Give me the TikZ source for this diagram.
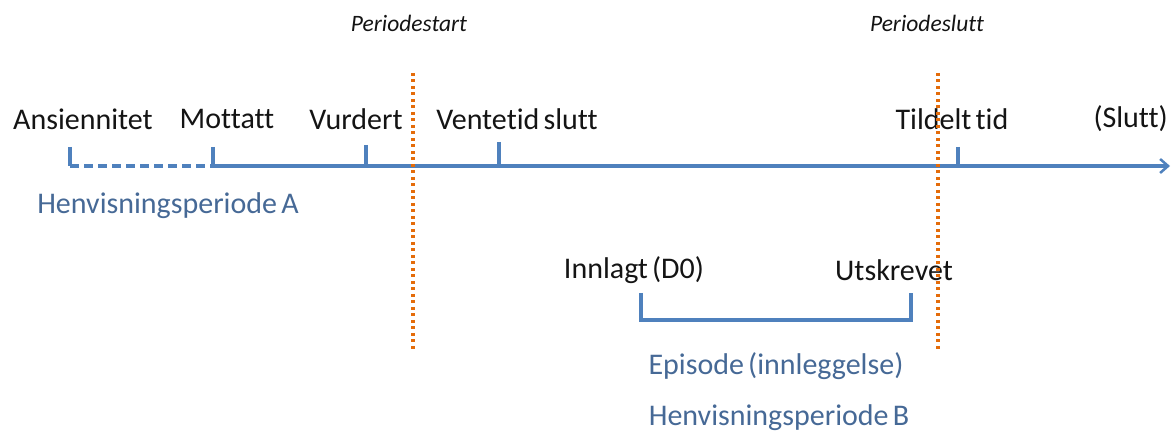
\documentclass[tikz,border=0pt]{standalone}
\usepackage{fontspec}
\setmainfont[Ligatures={NoCommon}]{Carlito}
\usetikzlibrary{arrows.meta}
\definecolor{axisblue}{RGB}{79,129,189}
\definecolor{labblue}{RGB}{70,105,150}
\definecolor{dotorange}{RGB}{228,108,10}
\definecolor{txt}{RGB}{20,20,20}
\newcommand{\tightsp}{\fontdimen2\font=0.14em}
\begin{document}
\begin{tikzpicture}[x=1pt,y=-1pt,
  lbl/.style={inner sep=0pt,text=txt,font=\fontsize{30}{35}\selectfont\tightsp},
  blbl/.style={inner sep=0pt,text=labblue,font=\fontsize{30}{35}\selectfont\tightsp},
  ilbl/.style={inner sep=0pt,text=txt,font=\fontsize{23.5}{28}\selectfont\itshape},
  axisline/.style={draw=axisblue,line width=3.5pt},
  tick/.style={draw=axisblue,line width=3.5pt},
  periodline/.style={draw=dotorange,line width=3.5pt,dash pattern=on 3pt off 3.5pt}]
\useasboundingbox (0,0) rectangle (1171,435);
% labels
\node[lbl] (ans) at (83,119) {Ansiennitet};
\node[lbl] (mot) at (227,119) {Mottatt};
\node[lbl] (vur) at (356,119) {Vurdert};
\node[lbl] (ven) at (517,119) {Ventetid slutt};
\node[lbl] (til) at (952,119) {Tildelt tid};
\node[lbl,anchor=east] (slu) at (1168,119) {(Slutt)};
\node[blbl] (hpa) at (168,206) {Henvisningsperiode A};
\node[ilbl] (pst) at (409,23) {Periodestart};
\node[ilbl] (psl) at (927,23) {Periodeslutt};
\node[lbl] (inn) at (634,270) {Innlagt (D0)};
\node[lbl] (uts) at (894,270) {Utskrevet};
\node[blbl] (epi) at (776,366) {Episode (innleggelse)};
\node[blbl] (hpb) at (779,418) {Henvisningsperiode B};
% axis coordinates
\coordinate (a0) at (70,166);
\coordinate (a0t) at (70,147);
\coordinate (a1) at (213,166);
\coordinate (a1t) at (213,147);
\coordinate (a2) at (366,166);
\coordinate (a2t) at (366,145);
\coordinate (a3) at (499,166);
\coordinate (a3t) at (499,142);
\coordinate (a4) at (958,166);
\coordinate (a4t) at (958,147);
\coordinate (aend) at (1170,166);
% axis
\draw[tick] (a0t) -- (a0);
\draw[axisline,dash pattern=on 9pt off 5pt] (a0) -- (a1);
\draw[axisline,-{Straight Barb[length=8pt,width=14pt,line width=2.5pt]}] (a1) -- (aend);
\draw[tick] (a1t) -- (a1);
\draw[tick] (a2t) -- (a2);
\draw[tick] (a3t) -- (a3);
\draw[tick] (a4t) -- (a4);
% episode bracket
\coordinate (e0t) at (641,293);
\coordinate (e0) at (641,320);
\coordinate (e1) at (911,320);
\coordinate (e1t) at (911,293);
\draw[tick,line join=miter] (e0t) -- (e0) -- (e1) -- (e1t);
% period lines
\coordinate (p0t) at (413,73);
\coordinate (p0b) at (413,351);
\coordinate (p1t) at (938,73);
\coordinate (p1b) at (938,352);
\draw[periodline] (p0t) -- (p0b);
\draw[periodline] (p1t) -- (p1b);
\end{tikzpicture}
\end{document}
